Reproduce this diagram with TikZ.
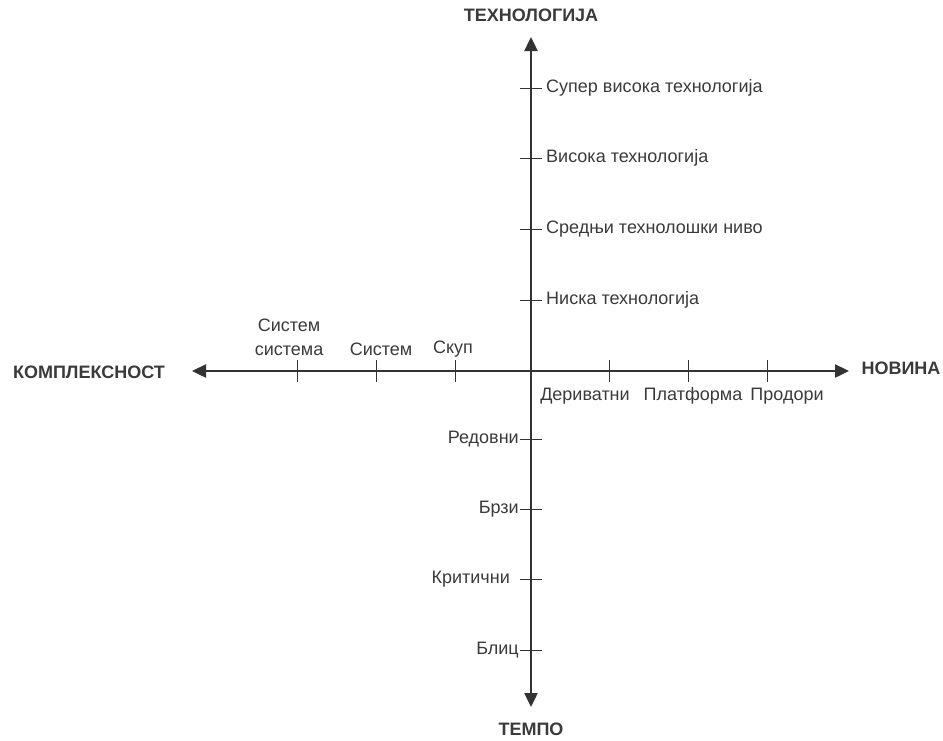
\documentclass[tikz,border=0pt]{standalone}
\usepackage{fontspec}
\setmainfont{Liberation Sans}
\usetikzlibrary{arrows.meta,positioning}
\definecolor{axisgray}{HTML}{333333}
\definecolor{textgray}{HTML}{3A3A3A}

\tikzset{
  axis/.style={line width=2.4pt, draw=axisgray, -{Triangle[length=14pt,width=13pt]}},
  tick/.style={line width=0.9pt, draw=axisgray},
  lbl/.style={text=textgray, font=\fontsize{18}{24}\selectfont, inner sep=1pt},
  title/.style={text=textgray, font=\fontsize{18}{20}\selectfont\bfseries, inner sep=0pt}
}

\begin{document}
\begin{tikzpicture}[x=1pt,y=-1pt]
\useasboundingbox (0,0) rectangle (943,740);

% Axes
\coordinate (O) at (531,371);
\coordinate (top) at (531,37);
\coordinate (bot) at (531,707);
\coordinate (left) at (192,371);
\coordinate (right) at (849,371);
\draw[axis] (O) -- (top);
\draw[axis] (O) -- (bot);
\draw[axis] (O) -- (left);
\draw[axis] (O) -- (right);

% axis titles
\node[title] (tech) at (531,15) {ТЕХНОЛОГИЈА};
\node[title] (tempo) at (531,729) {ТЕМПО};
\node[title] (kompl) at (89,372) {КОМПЛЕКСНОСТ};
\node[title] (novina) at (901,368) {НОВИНА};

% Technology (up)
\foreach \y/\txt [count=\i] in {88/Супер висока технологија, 158/Висока технологија,
  229/Средњи технолошки ниво, 300/Ниска технологија}
{
  \coordinate (u\i) at (531,\y);
  \draw[tick] ([xshift=-11pt]u\i) -- ([xshift=11pt]u\i);
  \node[lbl, anchor=west] (ul\i) at ([xshift=14pt]u\i) {\txt};
}

% Tempo (down)
\foreach \y/\txt/\dx [count=\i] in {439/Редовни/0, 509/Брзи/0, 579/Критични/-9, 650/Блиц/0}
{
  \coordinate (d\i) at (531,\y);
  \draw[tick] ([xshift=-11pt]d\i) -- ([xshift=11pt]d\i);
  \node[lbl, anchor=east] (dl\i) at ([xshift=-11pt+\dx pt]d\i) {\txt};
}

% Novelty (right)
\foreach \x/\lx/\txt [count=\i] in {609/585/Дериватни, 688/693/Платформа, 767/787/Продори}
{
  \coordinate (r\i) at (\x,371);
  \draw[tick] ([yshift=-11pt]r\i) -- ([yshift=11pt]r\i);
  \node[lbl] (rl\i) at (\lx,396) {\txt};
}

% Complexity (left)
\foreach \x/\lx/\ly/\txt [count=\i] in {455/453/349/Скуп, 376/381/349/Систем, 297/289/337/{Систем\\система}}
{
  \coordinate (l\i) at (\x,371);
  \draw[tick] ([yshift=-11pt]l\i) -- ([yshift=11pt]l\i);
  \node[lbl, align=center] (ll\i) at (\lx,\ly) {\txt};
}
\end{tikzpicture}
\end{document}
